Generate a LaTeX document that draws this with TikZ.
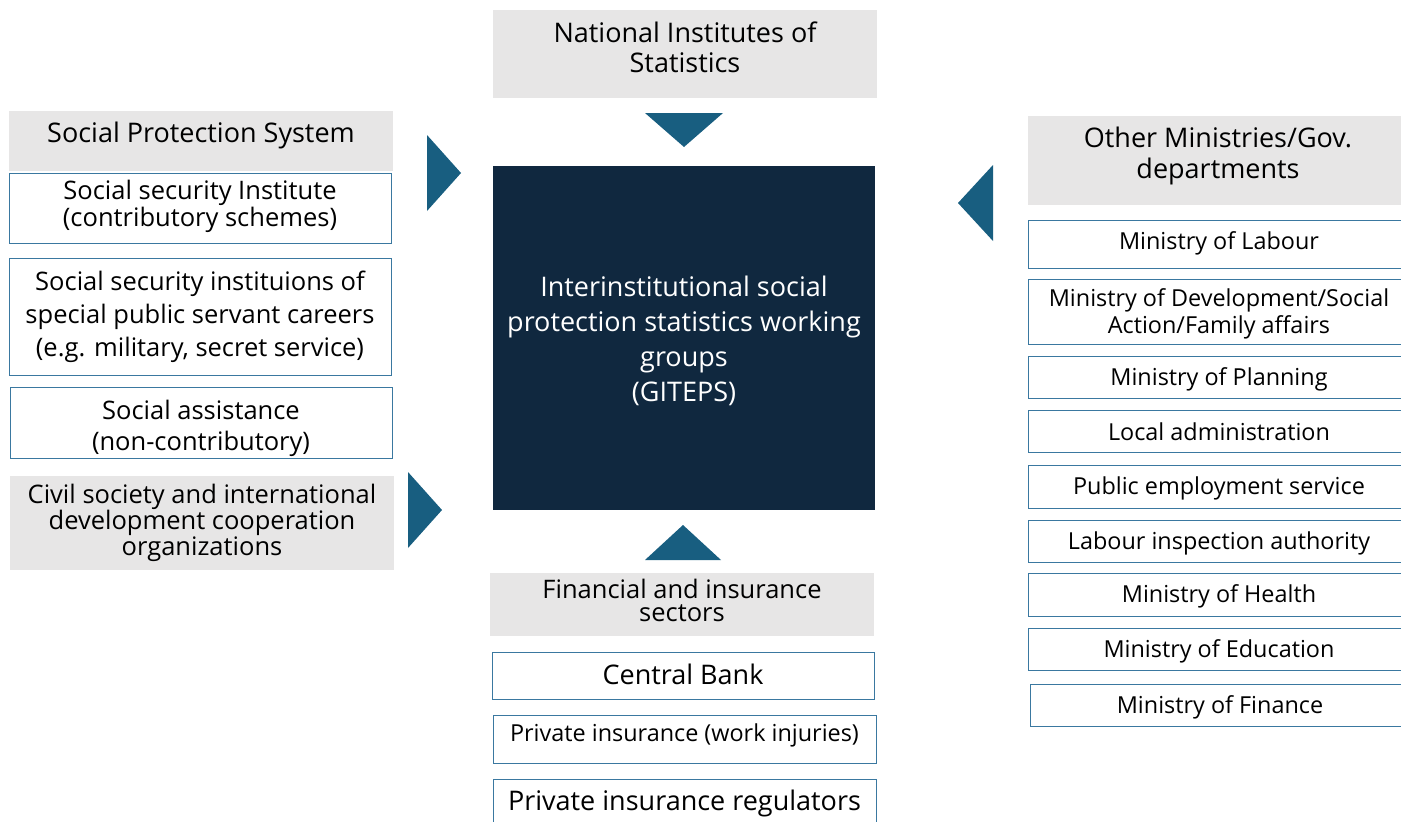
\documentclass[tikz,border=0pt]{standalone}
\usepackage{fontspec}
\setmainfont{Open Sans}
\definecolor{hdrgray}{HTML}{E7E6E6}
\definecolor{navy}{HTML}{10283F}
\definecolor{tri}{HTML}{185E80}
\definecolor{bord}{HTML}{3A78A0}
% \mybx[boxstyle]{name}{x}{y}{w}{h}{text y}{font style}{text}
\newcommand\mybx[9][]{%
  \node[#1,anchor=north west,inner sep=0pt,minimum width=#5pt,minimum height=#6pt] (#2) at (#3,#4) {};
  \node[#8,align=center,inner sep=0pt] (#2-t) at ({#3+#5/2},#7) {#9};}
\begin{document}
\begin{tikzpicture}[x=1pt,y=-1pt,
  hdr/.style={fill=hdrgray,draw=none},
  wbox/.style={fill=white,draw=bord,line width=1.2pt},
  dark/.style={fill=navy,draw=none},
  big/.style={font=\fontsize{27}{30}\selectfont},
  med/.style={font=\fontsize{25.5}{27}\selectfont},
  sml/.style={font=\fontsize{23.4}{27}\selectfont},
  arr/.style={fill=tri,draw=none}]
\useasboundingbox (0,0) rectangle (1401,822);
\clip (0,0) rectangle (1401,822);
% top
\mybx[hdr]{nis}{493}{10}{384}{88}{47}{big}{National Institutes of\\Statistics}
\mybx[dark]{giteps}{493}{166}{382}{344}{340.5}{font=\fontsize{27}{35}\selectfont,text=white}{Interinstitutional social\\protection statistics working\\groups\\(GITEPS)}
\fill[arr] (645,113) -- (723,113) -- (684,147) -- cycle;
% left
\mybx[hdr]{sps}{9}{111}{384}{60}{135}{big}{Social Protection System}
\mybx[wbox]{ssi}{9}{173}{382}{70}{206}{med}{Social security Institute\\(contributory schemes)}
\mybx[wbox]{ssp}{9}{258}{382}{117}{317}{font=\fontsize{25.5}{33}\selectfont}{Social security instituions of\\special public servant careers\\(e.g. military, secret service)}
\mybx[wbox]{sa}{10}{387}{382}{71}{428}{font=\fontsize{25.5}{31}\selectfont}{Social assistance\\(non-contributory)}
\mybx[hdr]{civ}{10}{476}{384}{94}{523}{font=\fontsize{25.5}{26}\selectfont}{Civil society and international\\development cooperation\\organizations}
\fill[arr] (427,135) -- (461,173) -- (427,211) -- cycle;
\fill[arr] (408,472) -- (442,510) -- (408,548) -- cycle;
% right
\mybx[hdr]{omg}{1028}{116}{380}{89}{155.5}{font=\fontsize{27}{31}\selectfont}{Other Ministries/Gov.\\departments}
\fill[arr] (993,165) -- (958,203) -- (993,241) -- cycle;
\mybx[wbox]{mlab}{1028}{220}{382}{48}{243}{sml}{Ministry of Labour}
\mybx[wbox]{mdev}{1028}{279}{382}{65}{314}{sml}{Ministry of Development/Social\\Action/Family affairs}
\mybx[wbox]{mpla}{1028}{356}{382}{42}{379}{sml}{Ministry of Planning}
\mybx[wbox]{loc}{1028}{410}{382}{42}{432}{sml}{Local administration}
\mybx[wbox]{pes}{1028}{465}{382}{43}{488}{sml}{Public employment service}
\mybx[wbox]{lia}{1028}{520}{382}{42}{543}{sml}{Labour inspection authority}
\mybx[wbox]{mhe}{1028}{573}{382}{43}{596}{sml}{Ministry of Health}
\mybx[wbox]{med}{1028}{628}{382}{42}{651}{sml}{Ministry of Education}
\mybx[wbox]{mfi}{1030}{684}{380}{42}{707}{sml}{Ministry of Finance}
% bottom
\fill[arr] (645,560) -- (683,525) -- (721,560) -- cycle;
\mybx[hdr]{fis}{490}{573}{384}{63}{600.5}{font=\fontsize{25.5}{23}\selectfont}{Financial and insurance\\sectors}
\mybx[wbox]{cb}{492}{652}{382}{47}{674}{big}{Central Bank}
\mybx[wbox]{pi}{493}{715}{383}{48}{735}{sml}{Private insurance (work injuries)}
\mybx[wbox]{pir}{493}{779}{383}{50}{803}{big}{Private insurance regulators}
\end{tikzpicture}
\end{document}
